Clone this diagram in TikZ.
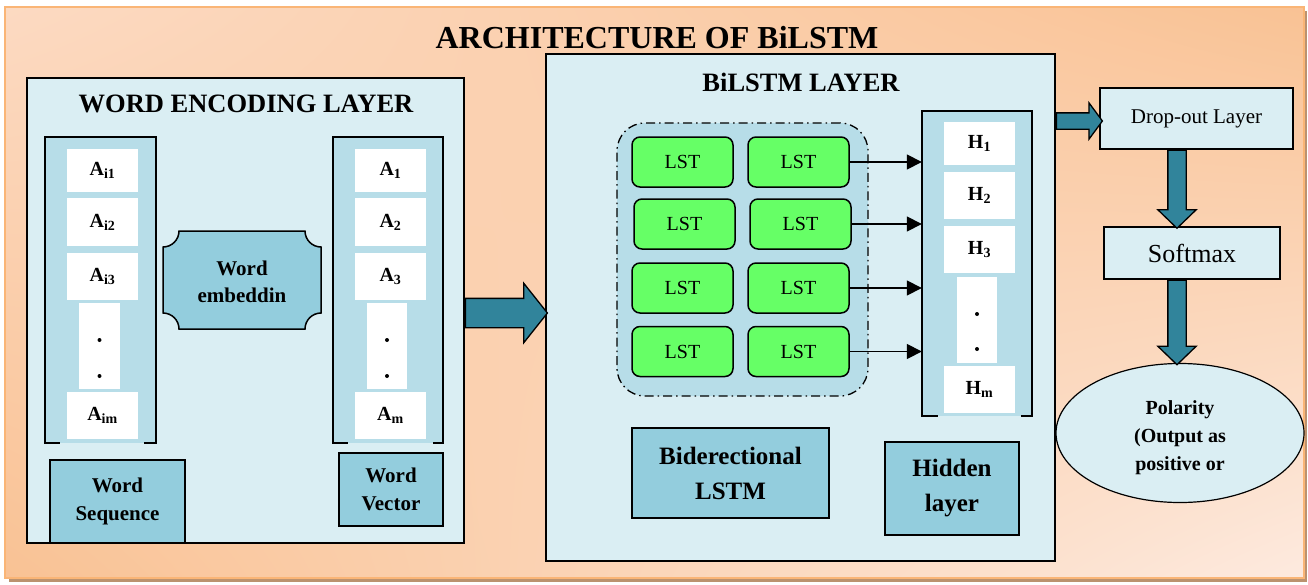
\documentclass[tikz,border=0pt]{standalone}
\usepackage{fontspec}
\setmainfont{Liberation Serif}
\usetikzlibrary{positioning,calc,shapes.geometric,shapes.arrows,arrows.meta,shadings}
\definecolor{paneblue}{HTML}{DAEEF3}
\definecolor{colblue}{HTML}{B7DDE8}
\definecolor{tagblue}{HTML}{93CDDD}
\definecolor{lstgreen}{HTML}{66FF66}
\definecolor{arrowteal}{HTML}{31849B}
\definecolor{peachlight}{HTML}{FDEADF}
\definecolor{peachmid}{HTML}{FCDAC2}
\definecolor{peachdark}{HTML}{F9C294}
\newcommand{\fsz}[2]{\fontsize{#1}{#2}\selectfont}
\tikzset{
  layer/.style={draw, line width=1.5pt, fill=paneblue},
  column/.style={fill=colblue},
  frame/.style={line width=1.5pt},
  cell/.style={fill=white, minimum width=71pt, font=\fsz{20}{22}\bfseries},
  tag/.style={draw, line width=1.5pt, fill=tagblue, align=center},
  lst/.style={draw, line width=1.5pt, fill=lstgreen, rounded corners=8pt,
    minimum width=101pt, minimum height=50pt, font=\fsz{20}{24}\selectfont},
  fatarrow/.style={single arrow, draw, line width=1.3pt, fill=arrowteal,
    inner sep=0pt, single arrow head indent=0pt, anchor=tail}
}
\begin{document}
\begin{tikzpicture}[x=1pt,y=-1pt]
  \useasboundingbox (0,0) rectangle (1308,584);
  \fill[black!25!peachdark] (9,11) rectangle (1307,582);
  \shade[upper left=peachmid, upper right=peachdark, lower left=peachdark,
    lower right=peachlight] (5,7) rectangle (1304,578);
  \draw[peachdark!80!orange, line width=1.2pt] (5,7) rectangle (1304,578);
  \node[font=\fsz{32}{36}\bfseries] (title) at (657,38) {ARCHITECTURE OF BiLSTM};

  \node[layer, minimum width=437pt, minimum height=465pt] (wel) at (245.5,310.5) {};
  \node[font=\fsz{26.5}{30}\bfseries] (weltitle) at (246,104) {WORD ENCODING LAYER};

  \node[column, minimum width=111pt, minimum height=306pt] (seqcol) at (100.5,290) {};
  \draw[frame] ([xshift=15pt]seqcol.south west) -- (seqcol.south west) -- (seqcol.north west)
    -- (seqcol.north east) -- (seqcol.south east) -- ([xshift=-12pt]seqcol.south east);
  \node[column, minimum width=110pt, minimum height=306pt] (veccol) at (388,290) {};
  \draw[frame] ([xshift=15pt]veccol.south west) -- (veccol.south west) -- (veccol.north west)
    -- (veccol.north east) -- (veccol.south east) -- ([xshift=-10pt]veccol.south east);
  \foreach \nm/\y/\h/\lab in {1/170.5/43/1, 2/222/48/2, 3/276.5/47/3, m/415.5/47/m} {
    \node[cell, minimum height=\h pt] (ai\nm) at (102.5,\y) {A\textsubscript{i\lab}};
    \node[cell, minimum height=\h pt] (a\nm) at (390.5,\y) {A\textsubscript{\lab}};
  }
  \node[cell, minimum width=41pt, minimum height=86pt] (seqdots) at (99.5,346) {};
  \node[cell, minimum width=40pt, minimum height=86pt] (vecdots) at (387,346) {};
  \foreach \d in {seqdots, vecdots} {
    \fill ($(\d.center)+(0,-6)$) circle (2pt);
    \fill ($(\d.center)+(0,30)$) circle (2pt);
  }

  \draw[frame, fill=tagblue] (179,231) -- (305,231) .. controls (305,239.8) and (312.2,247) .. (321,247)
    -- (321,313) .. controls (312.2,313) and (305,320.2) .. (305,329) -- (179,329)
    .. controls (179,320.2) and (171.8,313) .. (163,313) -- (163,247)
    .. controls (171.8,247) and (179,239.8) .. (179,231) -- cycle;
  \node[align=center, font=\fsz{21}{27}\bfseries] (emb) at (242,282) {Word\\embeddin};
  \node[tag, minimum width=135pt, minimum height=83pt, font=\fsz{21}{28}\bfseries] (wseq) at (117.5,501.5) {Word\\Sequence};
  \node[tag, minimum width=104pt, minimum height=73pt, font=\fsz{21}{28}\bfseries] (wvec) at (391,489.5) {Word\\Vector};

  \node[layer, minimum width=509pt, minimum height=507pt] (bil) at (800.5,307.5) {};
  \node[font=\fsz{26.5}{30}\bfseries] (biltitle) at (801,82) {BiLSTM LAYER};
  \node[fatarrow, inner ysep=14pt, minimum width=58pt, single arrow head extend=15pt, minimum height=82pt,
    single arrow tip angle=103] (toBil) at ($(wel.east)+(0,2.5)$) {};

  \node[draw, line width=1.3pt, dash pattern=on 9pt off 4pt on 1.5pt off 4pt, fill=colblue,
    rounded corners=28pt, minimum width=251pt, minimum height=273pt] (lstgrp) at (742.5,259.5) {};
  \foreach \r/\y/\dx in {1/162/0, 2/224/2, 3/288/0, 4/351.5/0} {
    \node[lst] (l\r) at (682.5+\dx,\y) {LST};
    \node[lst] (r\r) at (798.5+\dx,\y) {LST};
  }

  \node[column, minimum width=110pt, minimum height=305pt] (hidcol) at (977,263.5) {};
  \draw[frame] ([xshift=16pt]hidcol.south west) -- (hidcol.south west) -- (hidcol.north west)
    -- (hidcol.north east) -- (hidcol.south east) -- ([xshift=-11pt]hidcol.south east);
  \foreach \nm/\y/\h in {1/143.5/43, 2/195.5/47, 3/249.5/47, m/389.5/47}
    \node[cell, minimum height=\h pt] (h\nm) at (979.5,\y) {H\textsubscript{\nm}};
  \node[cell, minimum width=40pt, minimum height=86pt] (hdots) at (977,320) {};
  \fill ($(hdots.center)+(0,-6)$) circle (2pt);
  \fill ($(hdots.center)+(0,29)$) circle (2pt);
  \foreach \r in {1,...,4}
    \draw[line width=1.5pt, -{Triangle[length=15pt,width=15pt]}] (r\r.east) -- (r\r.east -| hidcol.west);

  \node[tag, minimum width=197pt, minimum height=90pt, font=\fsz{25}{35}\bfseries] (bilstm) at (730.5,473) {Biderectional\\LSTM};
  \node[tag, minimum width=134pt, minimum height=93pt, font=\fsz{25}{35}\bfseries] (hidden) at (952,488.5) {Hidden\\layer};

  \node[layer, line width=1.2pt, minimum width=193pt, minimum height=61pt, font=\fsz{21}{24}\selectfont] (drop) at (1196.5,118.5) {Drop-out Layer};
  \node[layer, line width=1.2pt, minimum width=176pt, minimum height=52pt, font=\fsz{26}{28}\selectfont] (soft) at (1192,253) {Softmax};
  \node[layer, line width=1.2pt, ellipse, minimum width=248pt, minimum height=139pt] (pol) at (1180,433) {};
  \begin{scope}
    \clip (1056,364) rectangle (1304,474);
    \node[align=center, font=\fsz{20}{28}\bfseries] (poltext) at (1180,438) {Polarity\\(Output as\\positive or};
  \end{scope}

  \node[fatarrow, inner ysep=7.5pt, minimum width=35pt, single arrow head extend=10pt, minimum height=46pt,
    single arrow tip angle=107] (toDrop) at ($(bil.east |- drop.west)+(0,2.5)$) {};
  \node[fatarrow, rotate=-90, inner ysep=8.5pt, minimum width=37pt, single arrow head extend=10pt, minimum height=78pt,
    single arrow tip angle=92] (toSoft) at ($(drop.south)+(-19.5,0)$) {};
  \node[fatarrow, rotate=-90, inner ysep=8.5pt, minimum width=37pt, single arrow head extend=10pt, minimum height=84.5pt,
    single arrow tip angle=92] (toPol) at ($(soft.south)+(-15,0)$) {};
\end{tikzpicture}
\end{document}
